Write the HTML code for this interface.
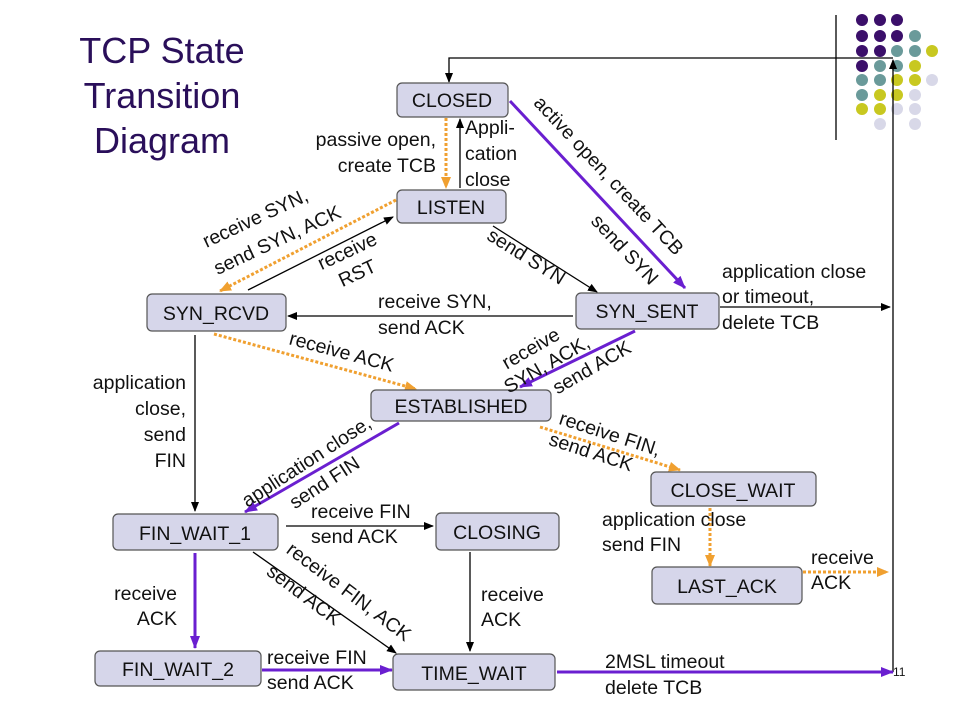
<!DOCTYPE html>
<html><head><meta charset="utf-8"><style>
html,body{margin:0;padding:0;background:#fff;}
svg{display:block;font-family:"Liberation Sans",Arial,sans-serif;}
</style></head><body>
<svg width="960" height="720" viewBox="0 0 960 720" xmlns="http://www.w3.org/2000/svg">
<defs>
<marker id="ab" markerWidth="10" markerHeight="8" refX="9" refY="4" orient="auto" markerUnits="userSpaceOnUse"><path d="M0,0 L10,4 L0,8 z" fill="#000"/></marker>
<marker id="ap" markerWidth="14" markerHeight="10" refX="12" refY="5" orient="auto" markerUnits="userSpaceOnUse"><path d="M0,0 L13,5 L0,10 z" fill="#6a1fd0"/></marker>
<marker id="ao" markerWidth="12" markerHeight="10" refX="11" refY="5" orient="auto" markerUnits="userSpaceOnUse"><path d="M0,0 L12,5 L0,10 z" fill="#f0a030"/></marker>
</defs>
<g>
<circle cx="862" cy="20" r="6" fill="#3b0f6a"/><circle cx="880" cy="20" r="6" fill="#3b0f6a"/><circle cx="897" cy="20" r="6" fill="#3b0f6a"/>
<circle cx="862" cy="36" r="6" fill="#3b0f6a"/><circle cx="880" cy="36" r="6" fill="#3b0f6a"/><circle cx="897" cy="36" r="6" fill="#3b0f6a"/><circle cx="915" cy="36" r="6" fill="#6a9a9a"/>
<circle cx="862" cy="51" r="6" fill="#3b0f6a"/><circle cx="880" cy="51" r="6" fill="#3b0f6a"/><circle cx="897" cy="51" r="6" fill="#6a9a9a"/><circle cx="915" cy="51" r="6" fill="#6a9a9a"/><circle cx="932" cy="51" r="6" fill="#c8c820"/>
<circle cx="862" cy="66" r="6" fill="#3b0f6a"/><circle cx="880" cy="66" r="6" fill="#6a9a9a"/><circle cx="897" cy="66" r="6" fill="#6a9a9a"/><circle cx="915" cy="66" r="6" fill="#c8c820"/>
<circle cx="862" cy="80" r="6" fill="#6a9a9a"/><circle cx="880" cy="80" r="6" fill="#6a9a9a"/><circle cx="897" cy="80" r="6" fill="#c8c820"/><circle cx="915" cy="80" r="6" fill="#c8c820"/><circle cx="932" cy="80" r="6" fill="#d8d8e8"/>
<circle cx="862" cy="95" r="6" fill="#6a9a9a"/><circle cx="880" cy="95" r="6" fill="#c8c820"/><circle cx="897" cy="95" r="6" fill="#c8c820"/><circle cx="915" cy="95" r="6" fill="#d8d8e8"/>
<circle cx="862" cy="109" r="6" fill="#c8c820"/><circle cx="880" cy="109" r="6" fill="#c8c820"/><circle cx="897" cy="109" r="6" fill="#d8d8e8"/><circle cx="915" cy="109" r="6" fill="#d8d8e8"/>
<circle cx="880" cy="124" r="6" fill="#d8d8e8"/><circle cx="915" cy="124" r="6" fill="#d8d8e8"/>
</g>
<line x1="836" y1="15" x2="836" y2="140" stroke="#000" stroke-width="1.3"/>
<g fill="#2a0f5a" font-size="36" text-anchor="middle">
<text x="162" y="63">TCP State</text><text x="162" y="108">Transition</text><text x="162" y="153">Diagram</text>
</g>
<g stroke="#000" stroke-width="1.3" fill="none">
<polyline points="893,672 893,60" marker-end="url(#ab)"/>
<polyline points="893,58 449,58 449,82" marker-end="url(#ab)"/>
<line x1="460" y1="188" x2="460" y2="119" marker-end="url(#ab)"/>
<line x1="493" y1="226" x2="597" y2="292" marker-end="url(#ab)"/>
<line x1="248" y1="290" x2="393" y2="217" marker-end="url(#ab)"/>
<line x1="573" y1="316" x2="288" y2="316" marker-end="url(#ab)"/>
<line x1="195" y1="335" x2="195" y2="511" marker-end="url(#ab)"/>
<line x1="286" y1="526" x2="433" y2="526" marker-end="url(#ab)"/>
<line x1="253" y1="552" x2="396" y2="653" marker-end="url(#ab)"/>
<line x1="470" y1="552" x2="470" y2="651" marker-end="url(#ab)"/>
<line x1="720" y1="307" x2="890" y2="307" marker-end="url(#ab)"/>
</g>
<g stroke="#6a1fd0" stroke-width="3" fill="none">
<line x1="510" y1="101" x2="685" y2="288" marker-end="url(#ap)"/>
<line x1="635" y1="331" x2="520" y2="387" marker-end="url(#ap)"/>
<line x1="399" y1="423" x2="245" y2="512" marker-end="url(#ap)"/>
<line x1="195" y1="553" x2="195" y2="648" marker-end="url(#ap)"/>
<line x1="262" y1="670" x2="392" y2="670" marker-end="url(#ap)"/>
<line x1="557" y1="672" x2="893" y2="672" marker-end="url(#ap)"/>
</g>
<g stroke="#f0a030" stroke-width="3" stroke-dasharray="3,2" fill="none">
<line x1="446" y1="118" x2="446" y2="188" marker-end="url(#ao)"/>
<line x1="396" y1="200" x2="220" y2="291" marker-end="url(#ao)"/>
<line x1="214" y1="334" x2="416" y2="389" marker-end="url(#ao)"/>
<line x1="540" y1="427" x2="680" y2="470" marker-end="url(#ao)"/>
<line x1="710" y1="508" x2="710" y2="566" marker-end="url(#ao)"/>
<line x1="803" y1="572" x2="888" y2="572" marker-end="url(#ao)"/>
</g>
<g fill="#d6d6ea" stroke="#555" stroke-width="1.2">
<rect x="397" y="83" width="111" height="34" rx="5"/>
<rect x="397" y="190" width="109" height="33" rx="5"/>
<rect x="147" y="294" width="139" height="37" rx="5"/>
<rect x="576" y="293" width="143" height="36" rx="5"/>
<rect x="371" y="390" width="180" height="31" rx="5"/>
<rect x="651" y="472" width="165" height="34" rx="5"/>
<rect x="113" y="514" width="165" height="36" rx="5"/>
<rect x="436" y="513" width="123" height="37" rx="5"/>
<rect x="652" y="567" width="150" height="37" rx="5"/>
<rect x="95" y="651" width="166" height="35" rx="5"/>
<rect x="393" y="654" width="162" height="36" rx="5"/>
</g>
<g font-size="19.5" text-anchor="middle" fill="#111">
<text x="452" y="107">CLOSED</text>
<text x="451" y="214">LISTEN</text>
<text x="216" y="320">SYN_RCVD</text>
<text x="647" y="318">SYN_SENT</text>
<text x="461" y="413">ESTABLISHED</text>
<text x="733" y="497">CLOSE_WAIT</text>
<text x="195" y="540">FIN_WAIT_1</text>
<text x="497" y="539">CLOSING</text>
<text x="727" y="593">LAST_ACK</text>
<text x="178" y="676">FIN_WAIT_2</text>
<text x="474" y="680">TIME_WAIT</text>
</g>
<g font-size="19.5" fill="#111">
<text x="436" y="146" text-anchor="end">passive open,</text>
<text x="436" y="172" text-anchor="end">create TCB</text>
<text x="465" y="134">Appli-</text><text x="465" y="160">cation</text><text x="465" y="186">close</text>
<text x="722" y="278">application close</text>
<text x="722" y="303">or timeout,</text>
<text x="722" y="329">delete TCB</text>
<text x="378" y="308">receive SYN,</text>
<text x="378" y="334">send ACK</text>
<text x="186" y="389" text-anchor="end">application</text>
<text x="186" y="415" text-anchor="end">close,</text>
<text x="186" y="441" text-anchor="end">send</text>
<text x="186" y="467" text-anchor="end">FIN</text>
<text x="311" y="518">receive FIN</text>
<text x="311" y="543">send ACK</text>
<text x="602" y="526">application close</text>
<text x="602" y="551">send FIN</text>
<text x="811" y="564">receive</text>
<text x="811" y="589">ACK</text>
<text x="177" y="600" text-anchor="end">receive</text>
<text x="177" y="625" text-anchor="end">ACK</text>
<text x="481" y="601">receive</text>
<text x="481" y="626">ACK</text>
<text x="267" y="664">receive FIN</text>
<text x="267" y="689">send ACK</text>
<text x="605" y="668">2MSL timeout</text>
<text x="605" y="694">delete TCB</text>
<text x="893" y="676" font-size="12">11</text>
</g>
<g font-size="19.5" fill="#111" text-anchor="middle">
<text transform="translate(604,180) rotate(47)">active open, create TCB</text>
<text transform="translate(620,254) rotate(47)">send SYN</text>
<text transform="translate(523,262) rotate(32)">send SYN</text>
<text transform="translate(258,224) rotate(-25)">receive SYN,</text>
<text transform="translate(280,246) rotate(-25)">send SYN, ACK</text>
<text transform="translate(350,257) rotate(-25)">receive</text>
<text transform="translate(360,279) rotate(-25)">RST</text>
<text transform="translate(340,358) rotate(15)">receive ACK</text>
<text transform="translate(534,354) rotate(-30)">receive</text>
<text transform="translate(550,370) rotate(-30)">SYN, ACK,</text>
<text transform="translate(595,373) rotate(-30)">send ACK</text>
<text transform="translate(310,467) rotate(-33)">application close,</text>
<text transform="translate(328,488) rotate(-33)">send FIN</text>
<text transform="translate(608,440) rotate(18)">receive FIN,</text>
<text transform="translate(589,458) rotate(18)">send ACK</text>
<text transform="translate(345,597) rotate(37)">receive FIN, ACK</text>
<text transform="translate(300,600) rotate(37)">send ACK</text>
</g>
</svg>
</body></html>
